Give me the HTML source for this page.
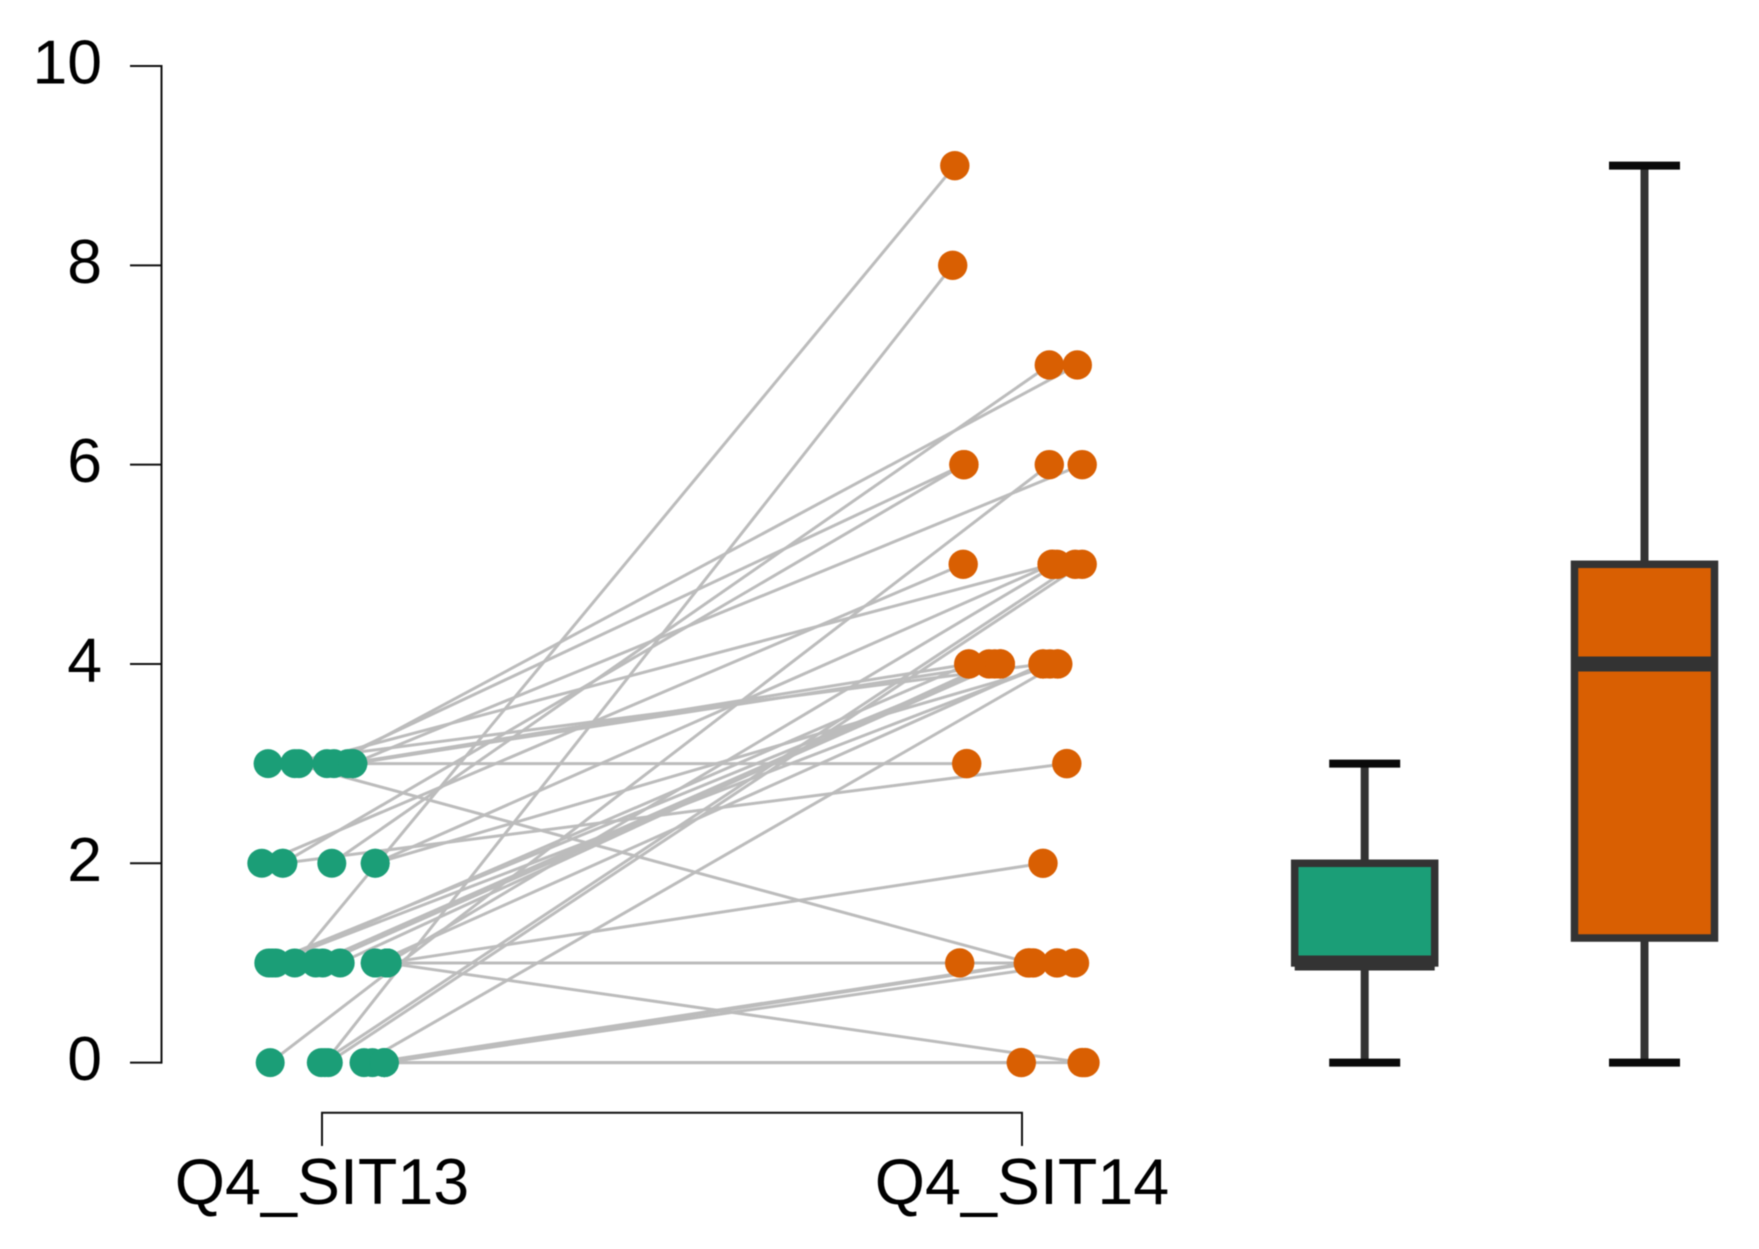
<!DOCTYPE html>
<html lang="en">
<head>
<meta charset="utf-8">
<title>Q4_SIT13 vs Q4_SIT14 paired plot</title>
<style>
html,body{margin:0;padding:0;background:#fff;width:1759px;height:1249px;overflow:hidden}
svg{display:block;filter:blur(0.6px)}
text{font-family:"Liberation Sans",Arial,sans-serif;fill:#000}
</style>
</head>
<body>
<svg id="chart" xmlns="http://www.w3.org/2000/svg" width="1759" height="1249" viewBox="0 0 1759 1249"></svg>
<script>
const yTicks = [0, 2, 4, 6, 8, 10];
const categories = ["Q4_SIT13", "Q4_SIT14"];
// paired subject scores, one entry per subject
const sit13Values = [3,3,3,3,3,3,3,3,3, 2,2,2,2,2,2, 1,1,1,1,1,1,1,1,1,1,1,1,1, 0,0,0,0,0,0,0,0,0,0];
const sit14Values = [7,6,6,5,4,4,4,3,1, 3,5,7,5,4,6, 9,4,5,4,4,4,4,2,1,1,0,4,4, 6,5,5,8,4,1,1,1,0,0];
// horizontal jitter in category-spacing units
const sit13Jitter = [.017,.007,.044,-.033,.037,.044,-.077,.044,-.039, -.056,.076,.014,-.086,.076,-.056, -.039,-.071,.093,.026,-.009,-.076,-.066,.093,.076,.093,.093,.076,.001, -.074,-.001,.009,.004,.060,.072,.089,.089,.089,.089];
const sit14Jitter = [.079,-.083,.086,.043,-.076,-.031,.030,-.079,.011, .064,.043,.039,-.084,.051,-.083, -.096,.040,.050,-.047,-.039,-.031,-.076,.030,-.089,.050,.086,.030,-.031, .039,.076,.086,-.099,.051,.009,.016,.075,-.001,.090];
// box plot summaries
const boxMin = [0, 0];
const boxQ1 = [1, 1.25];
const boxMedian = [1, 4];
const boxQ3 = [2, 5];
const boxMax = [3, 9];
const colors = ["#1b9e77", "#d95f02"];

const NS = "http://www.w3.org/2000/svg";
const svg = document.getElementById("chart");
const yScale = v => 1062.6 - 99.66 * v;
const catScale = c => 322 + 700 * c;
const boxScale = i => 1364.7 + 279.8 * i;
function mk(tag, attrs, parent) {
  const el = document.createElementNS(NS, tag);
  for (const k in attrs) el.setAttribute(k, attrs[k]);
  (parent || svg).appendChild(el);
  return el;
}
function group(name) {
  const g = mk("g", {});
  
  
  return g;
}

// y axis
const yAxis = group("y-axis");
const yLine = mk("line", {x1:161.5, x2:161.5, y1:yScale(10)-1, y2:yScale(0)+1, stroke:"#111", "stroke-width":2}, yAxis);


yTicks.forEach(t => {
  const tick = mk("line", {x1:130, x2:161.5, y1:yScale(t), y2:yScale(t), stroke:"#111", "stroke-width":2}, yAxis);
  
  
  const label = mk("text", {x:102, y:yScale(t)+17.6, "text-anchor":"end", "font-size":62.5}, yAxis);
  label.textContent = t;
  
  
});

// x bracket axis
const xAxis = group("x-axis");
const bracketY = 1112.7, bracketEnd = 1146;
const bracket = mk("path", {d:`M${catScale(0)} ${bracketEnd}V${bracketY}H${catScale(1)}V${bracketEnd}`, fill:"none", stroke:"#111", "stroke-width":2}, xAxis);


categories.forEach((c, i) => {
  const label = mk("text", {x:catScale(i), y:1204, "text-anchor":"middle", "font-size":64.6}, xAxis);
  label.textContent = c;
  
  
});

// paired lines
const lines = group("paired-lines");
sit13Values.forEach((v, i) => {
  const ln = mk("line", {
    x1:catScale(0 + sit13Jitter[i]), y1:yScale(v),
    x2:catScale(1 + sit14Jitter[i]), y2:yScale(sit14Values[i]),
    stroke:"#bcbcbc", "stroke-width":3
  }, lines);
  
  
});

// points
const dots13 = group("sit13-points");
sit13Values.forEach((v, i) => {
  const dot = mk("circle", {cx:catScale(0 + sit13Jitter[i]), cy:yScale(v), r:14.5, fill:colors[0]}, dots13);
  
  
});
const dots14 = group("sit14-points");
sit14Values.forEach((v, i) => {
  const dot = mk("circle", {cx:catScale(1 + sit14Jitter[i]), cy:yScale(v), r:14.7, fill:colors[1]}, dots14);
  
  
});

// box plots
const boxes = group("box-plots");
categories.forEach((c, i) => {
  const cx = boxScale(i), hw = 70, capW = 35.5;
  const whisker = mk("path", {d:`M${cx} ${yScale(boxMax[i])}V${yScale(boxQ3[i])}M${cx} ${yScale(boxQ1[i])}V${yScale(boxMin[i])}`, stroke:"#333", "stroke-width":8, fill:"none"}, boxes);
  
  
  [boxMax[i], boxMin[i]].forEach(v => {
    const cap = mk("line", {x1:cx-capW, x2:cx+capW, y1:yScale(v), y2:yScale(v), stroke:"#0a0a0a", "stroke-width":8}, boxes);
    
    
  });
  const box = mk("rect", {x:cx-hw, y:yScale(boxQ3[i]), width:2*hw, height:yScale(boxQ1[i])-yScale(boxQ3[i]), fill:colors[i], stroke:"#333", "stroke-width":7.5}, boxes);
  
  
  const med = mk("line", {x1:cx-hw, x2:cx+hw, y1:yScale(boxMedian[i]), y2:yScale(boxMedian[i]), stroke:"#333", "stroke-width":15}, boxes);
  
  
});
</script>
</body>
</html>
